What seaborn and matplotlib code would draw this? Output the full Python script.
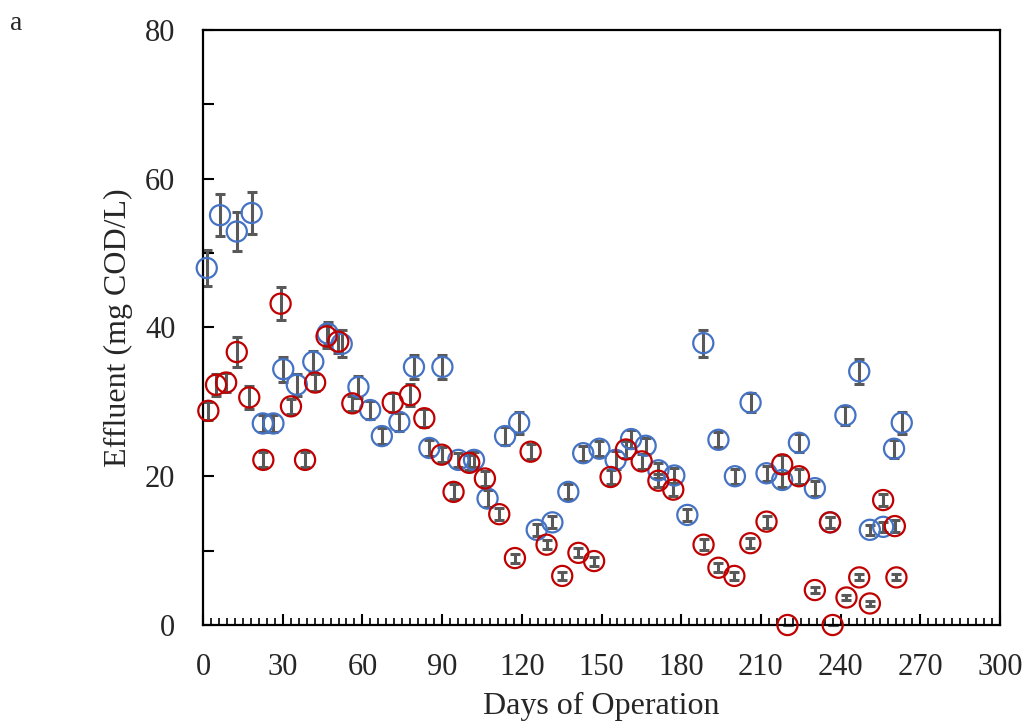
import numpy as np
import pandas as pd
import seaborn as sns
import matplotlib.pyplot as plt
from matplotlib.ticker import MultipleLocator

# blue series
blue_day = [1.4, 6.4, 12.7, 18.3, 22.5, 26.5, 30.2, 35.3, 41.5, 46.9, 52.2, 58.5,
            62.9, 67.3, 73.9, 79.4, 85.2, 90.1, 96.1, 102, 107.1, 113.7, 119,
            125.6, 131.5, 137.5, 143.1, 149.2, 155.3, 161.1, 166.6, 171.4, 177.4,
            182.3, 188.3, 194, 200.2, 206.1, 212.1, 218, 224.3, 230.3, 236,
            241.8, 247, 251, 256, 260.1, 263]
blue_cod = [48.0, 55.1, 52.9, 55.4, 27.1, 27.1, 34.4, 32.3, 35.4, 39.2, 37.8, 32.0,
            28.9, 25.4, 27.3, 34.7, 23.8, 34.7, 22.2, 22.2, 17.0, 25.4, 27.2,
            12.8, 13.8, 17.9, 23.1, 23.7, 22.2, 25.0, 24.1, 20.8, 20.1,
            14.8, 37.9, 24.9, 20.0, 29.9, 20.4, 19.5, 24.5, 18.4, 13.8,
            28.2, 34.1, 12.8, 13.2, 23.7, 27.2]
blue_err = [2.4, 2.8, 2.6, 2.8, 1.2, 1.2, 1.7, 1.5, 1.5, 1.6, 1.8, 1.5,
            1.2, 1.1, 1.2, 1.6, 1.1, 1.6, 0.9, 1.0, 1.1, 1.2, 1.5,
            0.8, 0.8, 1.0, 1.0, 1.0, 1.2, 1.2, 1.1, 1.0, 1.0,
            0.8, 1.8, 1.0, 1.0, 1.3, 1.0, 1.0, 1.2, 1.0, 0.7,
            1.3, 1.7, 0.7, 0.7, 1.2, 1.5]

# red series
red_day = [2, 4.9, 8.7, 12.7, 17.4, 22.7, 29.2, 33.1, 38.4, 42.2, 46.5, 50.9,
           56.2, 71.4, 77.9, 83.3, 89.8, 94.3, 100.2, 106.1, 111.5, 117.4,
           123.3, 129.3, 135.2, 141.3, 147.2, 153.4, 159.2, 165.1, 171.4, 177,
           188.4, 194, 200, 206, 212.1, 218, 220, 224.3, 230.3, 236, 237,
           242.2, 247, 251, 256, 260.4, 261]
red_cod = [28.8, 32.3, 32.6, 36.7, 30.6, 22.2, 43.2, 29.4, 22.2, 32.6, 38.8, 38.1,
           29.8, 29.9, 30.9, 27.8, 22.9, 17.9, 21.8, 19.7, 14.9, 9.0,
           23.3, 10.8, 6.6, 9.7, 8.6, 19.9, 23.6, 22.0, 19.4, 18.2,
           10.8, 7.7, 6.6, 11.0, 13.9, 21.6, 0.0, 20.0, 4.7, 13.8, 0.0,
           3.7, 6.4, 2.9, 16.8, 13.3, 6.4]
red_err = [1.2, 1.5, 1.3, 2.0, 1.5, 1.0, 2.2, 1.0, 1.0, 1.2, 1.5, 1.5,
           1.0, 1.3, 1.5, 1.2, 1.0, 1.0, 1.0, 1.0, 0.8, 0.6,
           1.0, 0.6, 0.5, 0.6, 0.6, 1.0, 1.2, 1.0, 0.9, 0.9,
           0.7, 0.6, 0.5, 0.7, 0.8, 1.2, 0.0, 1.0, 0.4, 0.7, 0.0,
           0.3, 0.4, 0.3, 0.8, 0.8, 0.4]

df = pd.concat([
    pd.DataFrame({"day": blue_day, "cod": blue_cod, "err": blue_err, "series": "blue"}),
    pd.DataFrame({"day": red_day, "cod": red_cod, "err": red_err, "series": "red"}),
])
palette = {"blue": "#4472C4", "red": "#C00000"}

sns.set_theme(style="ticks")
plt.rcParams['font.family'] = ['Liberation Serif', 'DejaVu Serif']

fig = plt.figure(figsize=(10.28, 7.26), dpi=100)
ax = fig.add_axes([0.1975, 0.1391, 0.7753, 0.8196])

for name in ["blue", "red"]:
    d = df[df["series"] == name]
    ax.errorbar(d["day"], d["cod"], yerr=d["err"], fmt="none", ecolor="#595959",
                elinewidth=2.2, capsize=3.7, capthick=2.2, zorder=2, clip_on=False)
    sns.scatterplot(data=d, x="day", y="cod", ax=ax, s=210, marker="o",
                    facecolors="none", edgecolor=palette[name], linewidth=1.6,
                    zorder=3, clip_on=False, legend=False)

ax.set_xlim(0, 300)
ax.set_ylim(0, 80)
ax.xaxis.set_major_locator(MultipleLocator(30))
ax.xaxis.set_minor_locator(MultipleLocator(3))
ax.yaxis.set_major_locator(MultipleLocator(20))
ax.yaxis.set_minor_locator(MultipleLocator(10))
ax.tick_params(axis="x", which="major", direction="in", length=8, width=1.5,
               pad=20, labelsize=22, color="black", top=False)
ax.tick_params(axis="x", which="minor", direction="in", length=5, width=1.2,
               color="black", top=False)
ax.tick_params(axis="y", which="both", direction="in", length=8, width=1.5,
               pad=20, labelsize=22, color="black", right=False)

for sp in ax.spines.values():
    sp.set_visible(True)
    sp.set_linewidth(1.6)
    sp.set_color("black")

ax.set_xlabel("Days of Operation", fontsize=23)
ax.set_ylabel("Effluent (mg COD/L)", fontsize=23)
ax.xaxis.set_label_coords(0.5, -0.113)
ax.yaxis.set_label_coords(-0.088, 0.5)

fig.text(0.01, 0.958, "a", fontsize=20, va="baseline", ha="left")

fig.savefig("out.png", dpi=100)
